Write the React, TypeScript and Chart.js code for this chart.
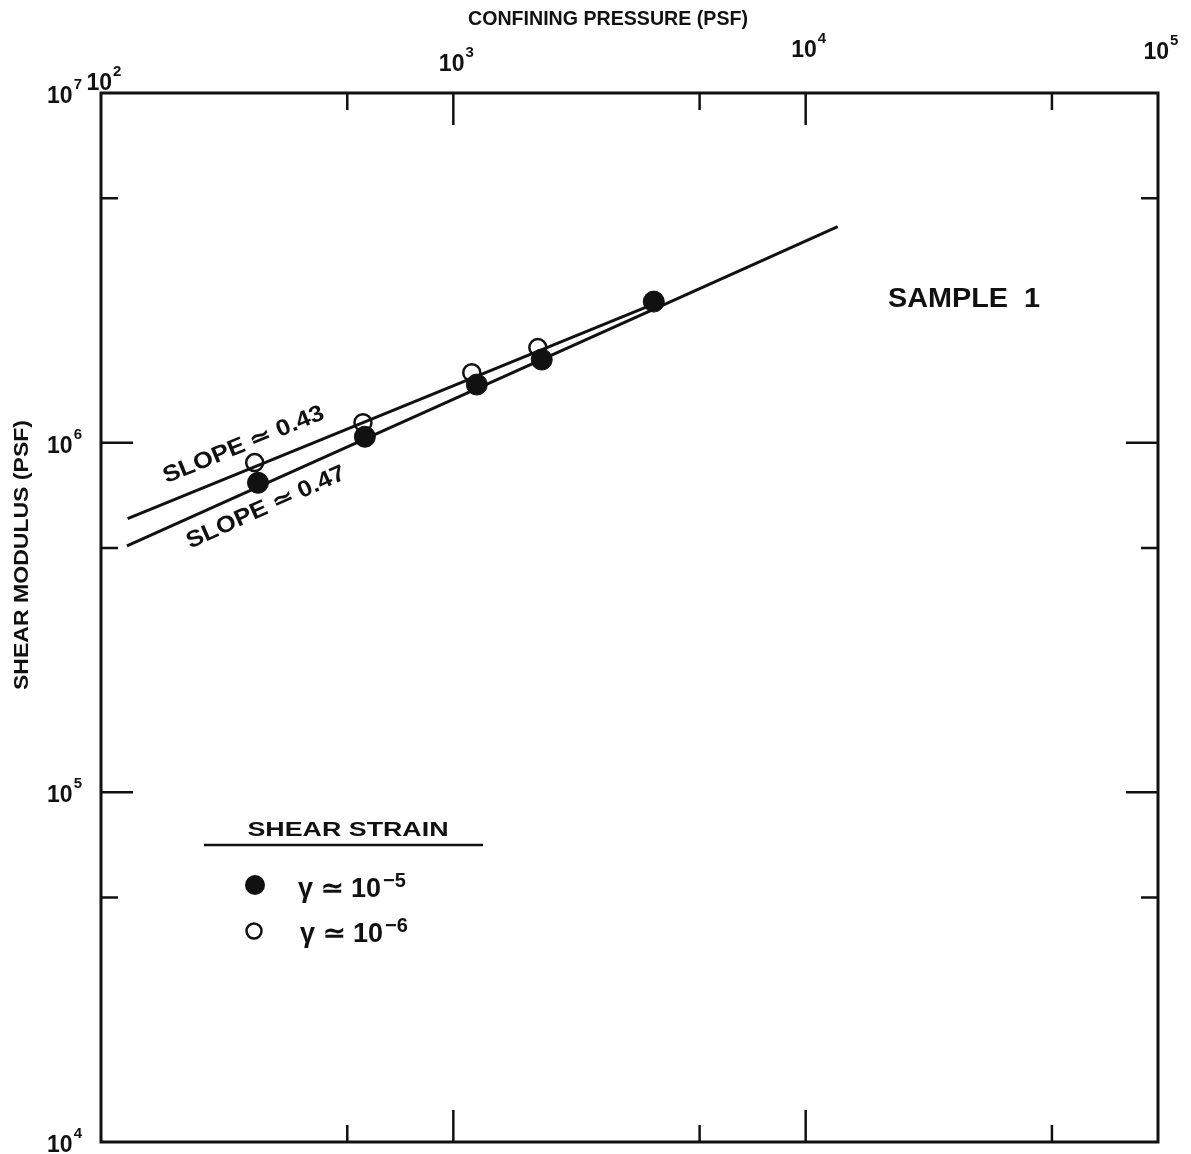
import React, { useEffect, useRef } from "react";
import { Chart, registerables } from "chart.js";
Chart.register(...registerables);

// ---- text ----
const xTitle = "CONFINING PRESSURE (PSF)";
const yTitle = "SHEAR MODULUS (PSF)";
const sampleLabel = "SAMPLE  1";
const legendTitle = "SHEAR STRAIN";
const legendSymbol = "γ ≃ 10";
const strainExponents = ["−5", "−6"];
const slopeLabels = ["SLOPE ≃ 0.43", "SLOPE ≃ 0.47"];

// ---- axes ----
const xMajorTicks = [100, 1000, 10000, 100000];
const xMajorExp = ["2", "3", "4", "5"];
const xMinorTicks = [500, 5000, 50000];
const yMajorTicks = [1e4, 1e5, 1e6, 1e7];
const yMajorExp = ["4", "5", "6", "7"];
const yMinorTicks = [5e4, 5e5, 5e6];

// ---- data ----
const pressureStrain5 = [279, 561, 1166, 1782, 3706];
const modulusStrain5 = [768000, 1040000, 1466000, 1728000, 2532000];
const pressureStrain6 = [273, 554, 1128, 1737];
const modulusStrain6 = [877000, 1141000, 1586000, 1870000];
const fitPressure043 = [119, 3729];
const fitModulus043 = [606000, 2499000];
const fitPressure047 = [118.5, 12330];
const fitModulus047 = [507000, 4150000];
// label anchors (data coords)
const slopeLabelPressure = [254, 294];
const slopeLabelModulus = [985000, 652000];

// ---- layout (hand-lettered label heights above the top frame) ----
const X_LABEL_RISE = [3, 22, 36, 34];

const FONT = '"Liberation Sans", Arial, sans-serif';
const INK = "#111111";

function pts(xs: number[], ys: number[]) {
  return xs.map((x, i) => ({ x, y: ys[i] }));
}

function fitText(ctx: any, text: string, cx: number, cy: number, angle: number, font: string, width?: number) {
  ctx.save();
  ctx.translate(cx, cy);
  ctx.rotate(angle);
  ctx.font = font;
  const w = ctx.measureText(text).width;
  if (width) ctx.scale(width / w, 1);
  ctx.textAlign = "center";
  ctx.textBaseline = "middle";
  ctx.fillStyle = INK;
  ctx.fillText(text, 0, 0);
  ctx.restore();
}

function drawPow(ctx: any, base: string, exp: string, x: number, y: number, align: string, baseFont: string, expFont: string, rise: number, gap = 1) {
  ctx.save();
  ctx.fillStyle = INK;
  ctx.textBaseline = "alphabetic";
  ctx.textAlign = "left";
  ctx.font = baseFont;
  const bw = ctx.measureText(base).width;
  ctx.font = expFont;
  const ew = ctx.measureText(exp).width;
  const total = bw + gap + ew;
  let left = x;
  if (align === "center") left = x - total / 2;
  else if (align === "right") left = x - total;
  ctx.font = baseFont;
  ctx.fillText(base, left, y);
  ctx.font = expFont;
  ctx.fillText(exp, left + bw + gap, y - rise);
  ctx.restore();
}

const paperPlugin = {
  id: "paper",
  afterDraw(chart: any) {
    const ctx = chart.ctx;
    const a = chart.chartArea;
    const xs = chart.scales.x;
    const ys = chart.scales.y;
    ctx.save();
    ctx.strokeStyle = INK;
    ctx.lineCap = "butt";
    // frame
    ctx.lineWidth = 3;
    ctx.strokeRect(a.left, a.top, a.right - a.left, a.bottom - a.top);
    // ticks
    ctx.lineWidth = 2.5;
    const major = 32;
    const minor = 17;
    const vt = (v: number, len: number) => {
      const px = xs.getPixelForValue(v);
      ctx.beginPath();
      ctx.moveTo(px, a.top);
      ctx.lineTo(px, a.top + len);
      ctx.moveTo(px, a.bottom);
      ctx.lineTo(px, a.bottom - len);
      ctx.stroke();
    };
    const ht = (v: number, len: number) => {
      const py = ys.getPixelForValue(v);
      ctx.beginPath();
      ctx.moveTo(a.left, py);
      ctx.lineTo(a.left + len, py);
      ctx.moveTo(a.right, py);
      ctx.lineTo(a.right - len, py);
      ctx.stroke();
    };
    xMajorTicks.slice(1, -1).forEach((v) => vt(v, major));
    xMinorTicks.forEach((v) => vt(v, minor));
    yMajorTicks.slice(1, -1).forEach((v) => ht(v, major));
    yMinorTicks.forEach((v) => ht(v, minor));

    // tick labels
    const bf = `bold 23px ${FONT}`;
    const ef = `bold 15px ${FONT}`;
    xMajorTicks.forEach((v, i) => {
      drawPow(ctx, "10", xMajorExp[i], xs.getPixelForValue(v) + 3, a.top - X_LABEL_RISE[i], "center", bf, ef, 14);
    });
    yMajorTicks.forEach((v, i) => {
      drawPow(ctx, "10", yMajorExp[i], a.left - 19, ys.getPixelForValue(v) + 10, "right", bf, ef, 14);
    });

    // axis titles
    fitText(ctx, xTitle, 608, 19, 0, `bold 21px ${FONT}`, 280);
    fitText(ctx, yTitle, 22, 555, -Math.PI / 2, `bold 20px ${FONT}`, 270);

    // sample label
    fitText(ctx, sampleLabel, 964, 300, 0, `bold 27px ${FONT}`, 152);

    // slope labels, rotated along their fit lines
    const fits = [
      [fitPressure043, fitModulus043],
      [fitPressure047, fitModulus047],
    ];
    slopeLabels.forEach((t, i) => {
      const [fx, fy] = fits[i];
      const x0 = xs.getPixelForValue(fx[0]);
      const x1 = xs.getPixelForValue(fx[1]);
      const y0 = ys.getPixelForValue(fy[0]);
      const y1 = ys.getPixelForValue(fy[1]);
      const ang = Math.atan2(y1 - y0, x1 - x0);
      fitText(ctx, t, xs.getPixelForValue(slopeLabelPressure[i]), ys.getPixelForValue(slopeLabelModulus[i]), ang, `bold 23px ${FONT}`, 172);
    });

    // legend
    const lx = a.left;
    const ly = a.top;
    fitText(ctx, legendTitle, lx + 247, ly + 737, 0, `bold 21px ${FONT}`, 201);
    ctx.lineWidth = 2.5;
    ctx.beginPath();
    ctx.moveTo(lx + 103, ly + 752);
    ctx.lineTo(lx + 382, ly + 752);
    ctx.stroke();
    // filled marker
    ctx.fillStyle = INK;
    ctx.beginPath();
    ctx.arc(lx + 154, ly + 792, 10, 0, Math.PI * 2);
    ctx.fill();
    // open marker
    ctx.lineWidth = 2.5;
    ctx.beginPath();
    ctx.arc(lx + 153, ly + 838, 7.5, 0, Math.PI * 2);
    ctx.stroke();
    const lf = `bold 27px ${FONT}`;
    const lef = `bold 20px ${FONT}`;
    drawPow(ctx, legendSymbol, strainExponents[0], lx + 197, ly + 804, "left", lf, lef, 10, 2);
    drawPow(ctx, legendSymbol, strainExponents[1], lx + 199, ly + 849, "left", lf, lef, 10, 2);
    ctx.restore();
  },
};

export default function App() {
  const ref = useRef<HTMLCanvasElement | null>(null);
  useEffect(() => {
    document.body.style.margin = "0";
    const canvas = ref.current;
    if (!canvas) return;
    const chart = new Chart(canvas, {
      type: "scatter",
      data: {
        datasets: [
          {
            label: "γ ≃ 10^-5",
            data: pts(pressureStrain5, modulusStrain5),
            pointRadius: 10.5,
            pointBackgroundColor: INK,
            pointBorderColor: INK,
            pointBorderWidth: 1,
            order: 1,
          },
          {
            label: "γ ≃ 10^-6",
            data: pts(pressureStrain6, modulusStrain6),
            pointRadius: 8.5,
            pointBackgroundColor: "rgba(0,0,0,0)",
            pointBorderColor: INK,
            pointBorderWidth: 2.5,
            order: 2,
          },
          {
            label: "slope 0.43",
            data: pts(fitPressure043, fitModulus043),
            showLine: true,
            pointRadius: 0,
            borderColor: INK,
            borderWidth: 3,
            order: 3,
          },
          {
            label: "slope 0.47",
            data: pts(fitPressure047, fitModulus047),
            showLine: true,
            pointRadius: 0,
            borderColor: INK,
            borderWidth: 3,
            order: 3,
          },
        ],
      },
      options: {
        animation: false,
        responsive: true,
        maintainAspectRatio: false,
        devicePixelRatio: 1,
        layout: { padding: { left: 101, top: 93, right: 33, bottom: 12 } },
        plugins: { legend: { display: false }, tooltip: { enabled: false } },
        scales: {
          x: { type: "logarithmic", min: 100, max: 100000, display: false },
          y: { type: "logarithmic", min: 1e4, max: 1e7, display: false },
        },
      },
      plugins: [paperPlugin],
    });
    return () => chart.destroy();
  }, []);
  return (
    <div style={{ width: 1191, height: 1154, position: "relative", background: "#fff" }}>
      <canvas ref={ref} />
    </div>
  );
}
